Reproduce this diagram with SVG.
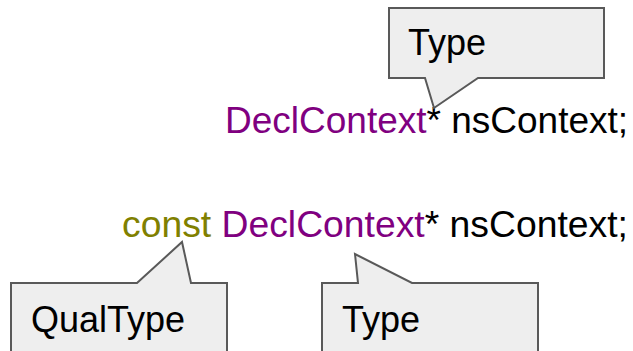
<svg xmlns="http://www.w3.org/2000/svg" width="633" height="351" viewBox="0 0 633 351">
<style>
.co{fill:#eeeeee;stroke:#595959;stroke-width:2;stroke-linejoin:miter}
.t{font-family:"Liberation Sans",Arial,sans-serif;font-size:37px;fill:#000}
.lbl{font-family:"Liberation Sans",Arial,sans-serif;font-size:36px;fill:#000}
.purple{fill:#800080}
.olive{fill:#808000}
</style>
<rect width="633" height="351" fill="#ffffff"/>
<g id="code1">
<text class="t" x="225" y="133"><tspan class="purple">DeclContext</tspan>* nsContext;</text>
</g>
<g id="code2">
<text class="t" x="122" y="237" style="font-size:37.3px"><tspan class="olive">const</tspan> <tspan class="purple">DeclContext</tspan>* nsContext;</text>
</g>
<g id="callout-type-top">
<path class="co" d="M389,8 H604 V78 H478 L434,108 L425,78 H389 Z"/>
<text class="lbl" x="408" y="55">Type</text>
</g>
<g id="callout-qualtype">
<path class="co" d="M11,283 H137 L182,242 L191,283 H227 V360 H11 Z"/>
<text class="lbl" x="31" y="332">QualType</text>
</g>
<g id="callout-type-bottom">
<path class="co" d="M322,283 H358 L355,254 L412,283 H538 V360 H322 Z"/>
<text class="lbl" x="342" y="332">Type</text>
</g>
<g id="connectors"></g>
</svg>
